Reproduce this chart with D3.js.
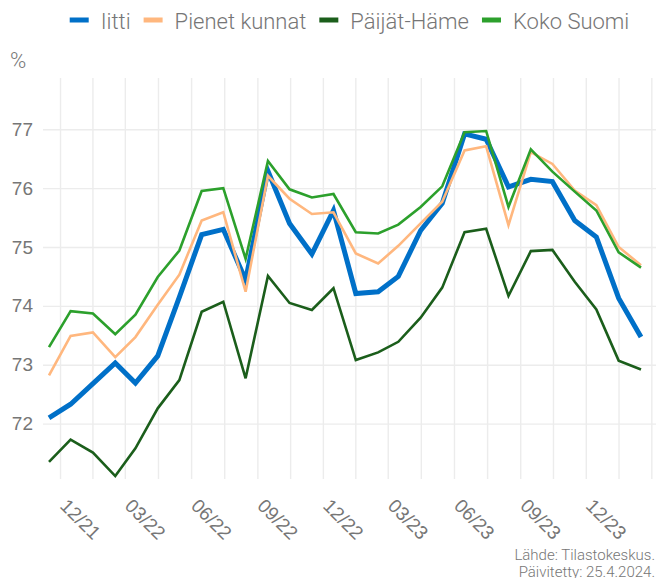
<!DOCTYPE html>
<html>
<head>
<meta charset="utf-8">
<script src="https://cdn.jsdelivr.net/npm/d3@7"></script>
<style>
  body { margin: 0; background: #fff; }
  svg { display: block; font-family: Roboto, "Noto Sans", sans-serif; }
  .axis text { fill: #767676; font-size: 19px; font-weight: 300; }
  .grid line { stroke: #ececec; stroke-width: 1.4; }
</style>
</head>
<body>
<div id="chart"></div>
<script>
// 1: DATA
const months = ["2021-11","2021-12","2022-01","2022-02","2022-03","2022-04","2022-05",
  "2022-06","2022-07","2022-08","2022-09","2022-10","2022-11","2022-12","2023-01",
  "2023-02","2023-03","2023-04","2023-05","2023-06","2023-07","2023-08","2023-09",
  "2023-10","2023-11","2023-12","2024-01","2024-02"];

const seriesNames = ["Iitti", "Pienet kunnat", "Päijät-Häme", "Koko Suomi"];
const seriesColors = ["#0070c8", "#ffb77e", "#1b5e1b", "#2ca02c"];

const iitti = [72.10, 72.33, 72.68, 73.03, 72.69, 73.15, 74.15, 75.21, 75.30, 74.44,
  76.29, 75.40, 74.88, 75.62, 74.21, 74.24, 74.50, 75.28, 75.74, 76.92, 76.83, 76.02,
  76.15, 76.11, 75.45, 75.17, 74.13, 73.47];
const pienetKunnat = [72.82, 73.49, 73.55, 73.13, 73.47, 74.02, 74.53, 75.45, 75.59, 74.24,
  76.21, 75.82, 75.56, 75.59, 74.89, 74.72, 75.02, 75.40, 75.77, 76.64, 76.71, 75.37,
  76.61, 76.41, 75.96, 75.71, 75.00, 74.69];
const paijatHame = [71.35, 71.73, 71.51, 71.11, 71.58, 72.26, 72.74, 73.90, 74.07, 72.77,
  74.51, 74.05, 73.93, 74.30, 73.08, 73.21, 73.39, 73.80, 74.31, 75.25, 75.31, 74.17,
  74.93, 74.95, 74.41, 73.94, 73.07, 72.92];
const kokoSuomi = [73.30, 73.91, 73.87, 73.52, 73.85, 74.49, 74.94, 75.95, 76.00, 74.80,
  76.46, 75.98, 75.84, 75.90, 75.25, 75.23, 75.38, 75.68, 76.03, 76.95, 76.97, 75.68,
  76.66, 76.28, 75.94, 75.62, 74.91, 74.65];

const yTicks = [72, 73, 74, 75, 76, 77];
const xTickMonths = ["2021-12","2022-03","2022-06","2022-09","2022-12","2023-03",
  "2023-06","2023-09","2023-12"];

// 2: LAYOUT
const W = 656, H = 578;
const margin = { top: 78, right: 0, bottom: 99, left: 43 };
const width = W - margin.left - margin.right;
const height = H - margin.top - margin.bottom;

const svgRoot = d3.select("#chart").append("svg")
  .attr("width", W)
  .attr("height", H);

const svg = svgRoot.append("g")
  .attr("transform", `translate(${margin.left},${margin.top})`);

const parseMonth = d3.timeParse("%Y-%m");
// values are monthly, placed mid-month
const dates = months.map(m => d3.timeDay.offset(parseMonth(m), 14));

const allSeries = [iitti, pienetKunnat, paijatHame, kokoSuomi].map((vals, i) => ({
  name: seriesNames[i],
  color: seriesColors[i],
  points: vals.map((v, j) => ({ date: dates[j], value: v }))
}));

// 3: SCALES
const xScale = d3.scaleTime()
  .domain(d3.extent(dates))
  .range([6, width - 15]);

const yScale = d3.scaleLinear()
  .domain([71.06, 77.87])
  .range([height, 0]);

// 4: GRID
const majorDates = d3.timeMonth.range(parseMonth("2021-09"), parseMonth("2024-07"), 3);
const minorDates = d3.pairs(majorDates).map(([a, b]) => new Date((+a + +b) / 2));
const gridDates = majorDates.concat(minorDates)
  .filter(d => xScale(d) >= 0 && xScale(d) <= width);

svg.append("g")
  .attr("class", "grid")
  .selectAll("line")
  .data(gridDates)
  .join("line")
  .attr("x1", d => xScale(d))
  .attr("x2", d => xScale(d))
  .attr("y1", 0)
  .attr("y2", height);

const yAxis = svg.append("g")
  .attr("class", "axis grid")
  .call(d3.axisLeft(yScale)
    .tickValues(yTicks)
    .tickSize(-width)
    .tickPadding(10)
    .tickFormat(d3.format("d")));
yAxis.select(".domain").remove();

const xAxis = svg.append("g")
  .attr("class", "axis")
  .attr("transform", `translate(0,${height})`)
  .call(d3.axisBottom(xScale)
    .tickValues(xTickMonths.map(parseMonth))
    .tickSize(0)
    .tickFormat(d3.timeFormat("%m/%y")));
xAxis.select(".domain").remove();
xAxis.selectAll("text")
  .attr("x", 0)
  .attr("y", 0)
  .attr("dy", 0)
  .attr("text-anchor", "start")
  .attr("transform", "translate(-2,28) rotate(45)");

// 5: LINES
const line = d3.line()
  .x(d => xScale(d.date))
  .y(d => yScale(d.value));

svg.selectAll(".series-line")
  .data(allSeries)
  .join("path")
  .attr("class", "series-line")
  .attr("fill", "none")
  .attr("stroke", d => d.color)
  .attr("stroke-width", d => d.name === "Iitti" ? 5 : 2.6)
  .attr("d", d => line(d.points));

// 6: LABELS
svgRoot.append("text")
  .attr("x", 10)
  .attr("y", 68)
  .attr("fill", "#767676")
  .style("font-size", "22px")
  .style("font-weight", 300)
  .text("%");

const legend = svgRoot.append("g");
let lx = 0;
allSeries.forEach(s => {
  const item = legend.append("g").attr("transform", `translate(${lx},0)`);
  item.append("rect")
    .attr("x", 0)
    .attr("y", 17.5)
    .attr("width", 19)
    .attr("height", 5)
    .attr("fill", s.color);
  const t = item.append("text")
    .attr("x", 31)
    .attr("y", 29)
    .attr("fill", "#767676")
    .style("font-size", "22px")
    .style("font-weight", 300)
    .text(s.name);
  lx += 31 + t.node().getComputedTextLength() + 13;
});
const legendW = lx - 13;
legend.attr("transform", `translate(${margin.left + (width - legendW) / 2},0)`);

const footer = svgRoot.append("g")
  .attr("fill", "#767676")
  .style("font-size", "15px")
  .style("font-weight", 300);
footer.append("text")
  .attr("text-anchor", "end")
  .attr("x", 655).attr("y", 560)
  .text("Lähde: Tilastokeskus.");
footer.append("text")
  .attr("text-anchor", "end")
  .attr("x", 655).attr("y", 577)
  .text("Päivitetty: 25.4.2024.");
</script>
</body>
</html>
